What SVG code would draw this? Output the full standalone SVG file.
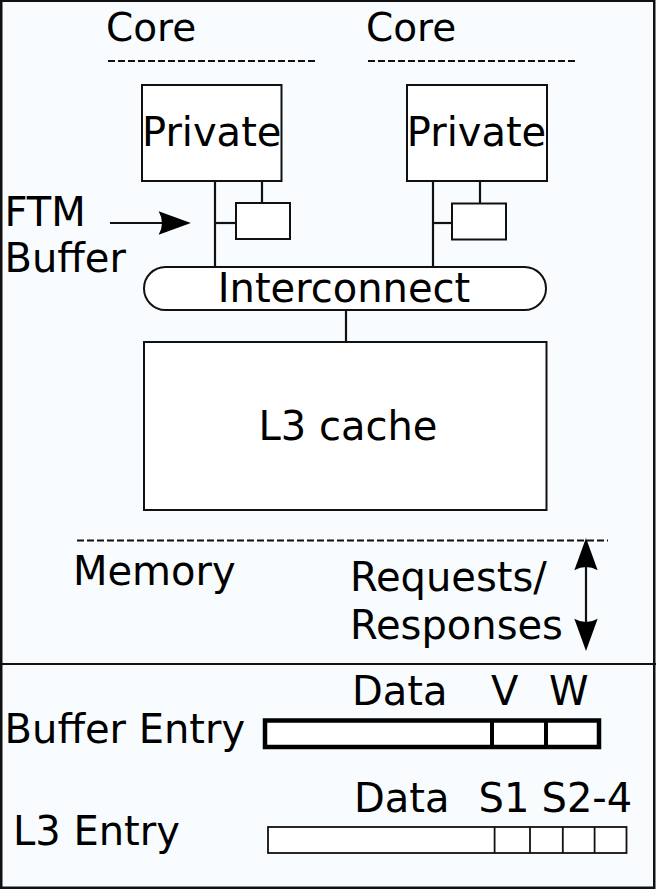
<svg xmlns="http://www.w3.org/2000/svg" width="656" height="889" viewBox="0 0 656 889">
  <style>
    text { font-family: "DejaVu Sans", "Liberation Sans", sans-serif; font-size: 40px; fill: #000; }
    .box { fill: #fff; stroke: #111; stroke-width: 2; }
    .wire { stroke: #111; stroke-width: 2.2; fill: none; }
    .dash { stroke: #111; stroke-width: 2; stroke-dasharray: 7 3; fill: none; }
    .mid { text-anchor: middle; }
    .slot { fill: #fff; stroke: #111; stroke-width: 1.8; }
    .bold-slot { fill: #fff; stroke: #000; stroke-width: 4.5; }
  </style>
  <defs>
    <marker id="head" markerUnits="userSpaceOnUse" markerWidth="40" markerHeight="30" viewBox="-24 -12 36 24" refX="0" refY="0" orient="auto-start-reverse" overflow="visible">
      <path d="M8,0 L-21,-10.5 Q-15,0 -21,10.5 Z" fill="#000"/>
    </marker>
  </defs>

  <!-- page frame -->
  <rect x="1.25" y="0.75" width="653" height="887" fill="#f8fcfe" stroke="#111" stroke-width="2.5"/>

  <!-- core column 1 -->
  <g id="core1">
    <text x="106" y="41" style="font-size:39px">Core</text>
    <line class="dash" x1="108" y1="61" x2="318" y2="61"/>
  </g>
  <g id="private1">
    <rect class="box" x="142" y="85" width="139.5" height="96"/>
    <text class="mid" x="211.7" y="146">Private</text>
  </g>
  <g id="ftm1">
    <rect class="box" x="236" y="203" width="54" height="36"/>
  </g>

  <!-- core column 2 -->
  <g id="core2">
    <text x="366" y="41" style="font-size:39px">Core</text>
    <line class="dash" x1="368" y1="61" x2="578" y2="61"/>
  </g>
  <g id="private2">
    <rect class="box" x="407" y="85" width="140" height="96"/>
    <text class="mid" x="476.5" y="146">Private</text>
  </g>
  <g id="ftm2">
    <rect class="box" x="452" y="203.5" width="54" height="36"/>
  </g>

  <g id="ftm-label">
    <text x="4.5" y="226">FTM</text>
    <text x="4.5" y="272">Buffer</text>
  </g>

  <g id="interconnect">
    <rect class="box" x="144" y="267" width="402" height="43" rx="21.5" ry="21.5"/>
    <text class="mid" x="344" y="302">Interconnect</text>
  </g>

  <g id="l3">
    <rect class="box" x="144" y="342" width="402.5" height="168"/>
    <text class="mid" x="348" y="440">L3 cache</text>
  </g>

  <g id="memory">
    <line class="dash" x1="77" y1="540.5" x2="608" y2="540.5"/>
    <text x="73" y="585">Memory</text>
    <text x="350" y="591">Requests/</text>
    <text x="350" y="639">Responses</text>
  </g>

  <!-- connectors -->
  <g id="connectors">
    <line class="wire" x1="215" y1="181" x2="215" y2="267"/>
    <line class="wire" x1="262" y1="181" x2="262" y2="203"/>
    <line class="wire" x1="215" y1="223" x2="236" y2="223"/>
    <line class="wire" x1="433" y1="181" x2="433" y2="267"/>
    <line class="wire" x1="480" y1="181" x2="480" y2="203.5"/>
    <line class="wire" x1="433" y1="223" x2="452" y2="223"/>
    <line class="wire" x1="346" y1="310" x2="346" y2="342"/>
    <line class="wire" x1="110" y1="223" x2="182" y2="223" marker-end="url(#head)"/>
    <line class="wire" x1="586" y1="547" x2="586" y2="642" marker-start="url(#head)" marker-end="url(#head)"/>
  </g>

  <!-- divider between the two panels -->
  <line x1="0" y1="664" x2="656" y2="664" stroke="#111" stroke-width="2"/>

  <g id="buffer-entry">
    <text x="352" y="705">Data</text>
    <text x="491" y="705">V</text>
    <text x="549" y="705">W</text>
    <text x="4.6" y="743">Buffer Entry</text>
    <rect class="bold-slot" x="265" y="720.5" width="334" height="26.5"/>
    <line x1="492" y1="720.5" x2="492" y2="747" stroke="#000" stroke-width="4"/>
    <line x1="546" y1="720.5" x2="546" y2="747" stroke="#000" stroke-width="4"/>
  </g>

  <g id="l3-entry">
    <text x="354" y="812">Data</text>
    <text x="478.5" y="812">S1</text>
    <text x="541.5" y="812">S2-4</text>
    <text x="13" y="845">L3 Entry</text>
    <rect class="slot" x="268" y="827" width="358.5" height="26"/>
    <line class="slot" x1="494.6" y1="827" x2="494.6" y2="853"/>
    <line class="slot" x1="530" y1="827" x2="530" y2="853"/>
    <line class="slot" x1="562.8" y1="827" x2="562.8" y2="853"/>
    <line class="slot" x1="594.6" y1="827" x2="594.6" y2="853"/>
  </g>
</svg>
